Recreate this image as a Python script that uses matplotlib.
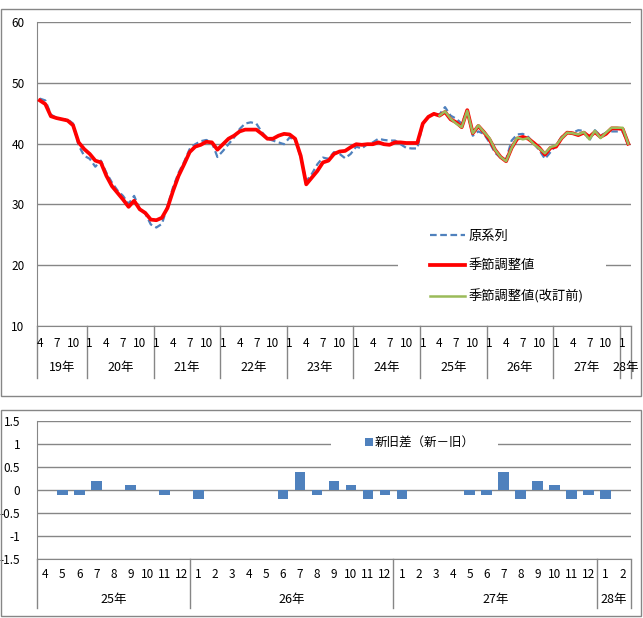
import numpy as np
import matplotlib
matplotlib.use("Agg")
import matplotlib.pyplot as plt
from matplotlib.patches import Rectangle

plt.rcParams['font.family'] = ['Noto Sans CJK JP', 'DejaVu Sans']

# monthly categories, Heisei 19/4 .. 28/2
start_year, start_month = 19, 4
n_top = 107
periods = [(start_year + (start_month - 1 + i) // 12, (start_month - 1 + i) % 12 + 1)
           for i in range(n_top)]

# 原系列 (original series)
original = [47.4, 47.1, 44.8, 44.2, 44.0, 44.0, 43.3, 39.7, 38.0,
            37.5, 36.2, 37.2, 35.2, 33.6, 32.3, 31.4, 30.1, 31.4, 29.2, 28.5, 26.7,
            26.2, 26.8, 29.7, 32.8, 35.2, 37.0, 39.1, 39.9, 40.4, 40.6, 40.2, 37.8,
            38.8, 39.9, 41.0, 42.4, 43.3, 43.5, 43.3, 41.9, 40.8, 40.5, 40.2, 39.9,
            41.0, 40.6, 37.8, 33.8, 35.0, 36.6, 37.7, 37.5, 38.6, 38.3, 37.6, 38.3,
            39.5, 39.2, 39.9, 40.2, 40.8, 40.6, 40.5, 40.5, 39.9, 39.3, 39.2, 39.2,
            43.3, 44.4, 44.9, 44.8, 46.0, 44.6, 44.1, 43.3, 45.5, 41.3, 42.0, 41.6,
            40.2, 38.5, 37.7, 37.4, 40.5, 41.5, 41.6, 41.1, 40.0, 38.9, 37.5, 38.6,
            39.7, 41.1, 41.8, 41.8, 42.2, 42.1, 40.5, 42.2, 41.3, 41.8, 42.0, 42.0,
            42.0, 39.8]

# 季節調整値 (seasonally adjusted, new)
adjusted = [47.1, 46.5, 44.5, 44.2, 44.0, 43.8, 43.0, 40.2, 39.1,
            38.3, 37.2, 36.9, 34.7, 33.0, 31.9, 30.8, 29.6, 30.6, 29.2, 28.6, 27.5,
            27.4, 27.8, 29.4, 32.2, 34.7, 36.6, 38.6, 39.5, 39.8, 40.3, 40.2, 39.0,
            39.9, 40.8, 41.3, 42.0, 42.3, 42.3, 42.3, 41.6, 40.8, 40.8, 41.3, 41.6,
            41.5, 40.8, 38.0, 33.3, 34.4, 35.5, 36.9, 37.2, 38.3, 38.7, 38.8, 39.4,
            39.9, 39.8, 39.9, 39.9, 40.2, 39.9, 39.8, 40.2, 40.2, 40.1, 40.1, 40.1,
            43.3, 44.4, 44.9, 44.6, 45.2, 44.0, 43.5, 42.7, 45.5, 41.7, 42.9, 41.9,
            40.7, 39.0, 37.8, 37.1, 39.3, 40.8, 41.1, 40.8, 40.1, 39.3, 38.2, 39.3,
            39.5, 40.9, 41.8, 41.7, 41.4, 41.8, 41.1, 41.9, 41.1, 41.6, 42.5, 42.5,
            42.4, 40.0]

# 季節調整値(改訂前) (previous adjustment), from 25/4
old_start = 72
adjusted_old = [44.6, 45.3, 44.1, 43.3, 42.7, 45.4, 41.7, 43.0, 41.9,
                40.9, 39.0, 37.8, 37.1, 39.3, 41.0, 40.7, 40.9, 39.9, 39.2, 38.4, 39.4,
                39.7, 40.9, 41.8, 41.7, 41.5, 41.9, 40.7, 42.1, 40.9, 41.8, 42.6, 42.6,
                42.6, 40.0]

# 新旧差（新－旧） 25/4 .. 28/2
diff = [0, -0.1, -0.1, 0.2, 0, 0.1, 0, -0.1, 0,
        -0.2, 0, 0, 0, 0, -0.2, 0.4, -0.1, 0.2, 0.1, -0.2, -0.1,
        -0.2, 0, 0, 0, -0.1, -0.1, 0.4, -0.2, 0.2, 0.1, -0.2, -0.1,
        -0.2, 0]
diff_periods = periods[old_start:]

GRID = "#868686"
W, H = 643, 618


def px_rect(x0, y0, x1, y1):
    # pixel box (top-left origin) -> figure fraction [l, b, w, h]
    return [x0 / W, 1 - y1 / H, (x1 - x0) / W, (y1 - y0) / H]


def legend_bg(ax, x0, y0, x1, y1):
    # white box hiding gridlines behind the legend
    l, b, w, h = px_rect(x0, y0, x1, y1)
    ax.add_patch(Rectangle((l, b), w, h, transform=ax.figure.transFigure,
                           facecolor="white", edgecolor="none", zorder=2))


def category_axis(ax, pers, month_step, month_y, year_y, sep_y, fs_month, fs_year):
    n = len(pers)
    tr = ax.get_xaxis_transform()
    for i, (yy, mm) in enumerate(pers):
        if month_step == 1 or (mm - 1) % month_step == 0:
            ax.text(i, month_y, str(mm), transform=tr, ha="center", va="center",
                    fontsize=fs_month)
    # year groups
    bounds = [0] + [i for i in range(1, n) if pers[i][0] != pers[i - 1][0]] + [n]
    for a, b in zip(bounds[:-1], bounds[1:]):
        ax.plot([a - 0.5, a - 0.5], [0, sep_y], transform=tr, color=GRID,
                lw=1, clip_on=False)
        ax.text((a + b - 1) / 2, year_y, f"{pers[a][0]}年", transform=tr,
                ha="center", va="center", fontsize=fs_year)
    ax.plot([n - 0.5, n - 0.5], [0, sep_y], transform=tr, color=GRID,
            lw=1, clip_on=False)


fig = plt.figure(figsize=(6.43, 6.18), dpi=100)

# chart frames
fig.patches.append(Rectangle((1 / W, 1 - 396 / H), 640 / W, 387 / H,
                             transform=fig.transFigure, fill=False,
                             edgecolor=GRID, lw=1))
fig.patches.append(Rectangle((1 / W, 1 - 616 / H), 640 / W, 206 / H,
                             transform=fig.transFigure, fill=False,
                             edgecolor=GRID, lw=1))

# ---- top: line chart
ax = fig.add_axes(px_rect(37, 22, 631, 326))
x = np.arange(n_top)
ax.plot(x, original, color="#4F81BD", lw=1.6, linestyle=(0, (3, 1.6)),
        label="原系列", zorder=3)
ax.plot(x, adjusted, color="#FF0000", lw=2.7, label="季節調整値", zorder=4)
ax.plot(np.arange(old_start, old_start + len(adjusted_old)), adjusted_old,
        color="#9BBB59", lw=1.8, label="季節調整値(改訂前)", zorder=5)

ax.set_xlim(-0.5, n_top - 0.5)
ax.set_ylim(10, 60)
ax.set_yticks(range(10, 61, 10))
ax.yaxis.grid(True, color=GRID, lw=1)
ax.set_axisbelow(True)
ax.set_xticks([])
ax.tick_params(axis="y", length=0, pad=9, labelsize=8.5)
for s in ("top", "right"):
    ax.spines[s].set_visible(False)
for s in ("left", "bottom"):
    ax.spines[s].set_color(GRID)
category_axis(ax, periods, 3, -0.056, -0.138, -0.171, 8.5, 9)

legend_bg(ax, 398, 224, 606, 304)
ax.legend(loc="upper left", bbox_to_anchor=(418 / W, 1 - 218 / H),
          bbox_transform=fig.transFigure, fontsize=9.5, frameon=False,
          handlelength=2.65, handletextpad=0.3, labelspacing=1.25,
          borderpad=0.4)

# ---- bottom: bar chart
bx = fig.add_axes(px_rect(37, 421, 631, 559))
xb = np.arange(len(diff))
bx.bar(xb, diff, width=0.63, color="#4F81BD", label="新旧差（新－旧）", zorder=3)
bx.set_xlim(-0.5, len(diff) - 0.5)
bx.set_ylim(-1.5, 1.5)
bx.set_yticks([-1.5, -1, -0.5, 0, 0.5, 1, 1.5])
bx.set_yticklabels(["-1.5", "-1", "-0.5", "0", "0.5", "1", "1.5"])
bx.yaxis.grid(True, color=GRID, lw=1)
bx.set_axisbelow(True)
bx.set_xticks([])
bx.tick_params(axis="y", length=0, pad=12, labelsize=8.5)
for s in ("top", "right"):
    bx.spines[s].set_visible(False)
for s in ("left", "bottom"):
    bx.spines[s].set_color(GRID)
category_axis(bx, diff_periods, 1, -0.109, -0.29, -0.355, 8.5, 9)

legend_bg(bx, 331, 434, 498, 453)
bx.legend(loc="center", bbox_to_anchor=(420 / W, 1 - 443 / H),
          bbox_transform=fig.transFigure, fontsize=9, frameon=False,
          handlelength=0.6, handleheight=0.6, handletextpad=0.2,
          borderpad=0.3)

fig.savefig("out.png", dpi=100)
